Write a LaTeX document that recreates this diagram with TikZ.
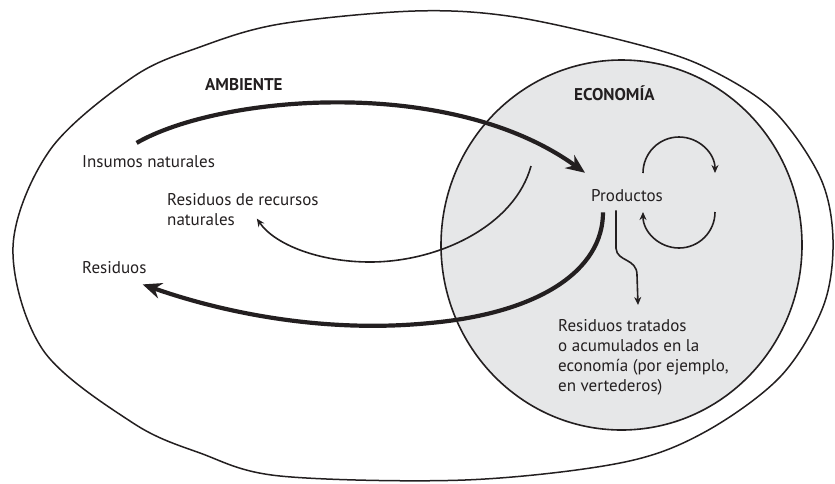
\documentclass[tikz,border=0pt]{standalone}
\usepackage{fontspec}
\setmainfont{PT Sans}
\usetikzlibrary{arrows.meta}

\definecolor{econgray}{RGB}{230,231,232}
\definecolor{inkblack}{RGB}{35,31,32}

\begin{document}
\begin{tikzpicture}[x=1pt,y=-1pt,
  label/.style={font=\fontsize{17}{20}\selectfont, inner sep=0pt, align=left, text=inkblack},
  title/.style={label, font=\fontsize{17}{20}\selectfont\bfseries},
  bigarrow/.style={-{Stealth[length=19pt,width=16pt]}, line width=4.2pt, inkblack},
  smallarrow/.style={-{Stealth[length=8pt,width=7pt]}, line width=1.6pt, inkblack}]

\useasboundingbox (0,0) rectangle (835,483);

% Draw the economy disc
\fill[econgray] (621.5,245) ellipse [x radius=180.5, y radius=185];

% Draw the environment
\draw[line width=1.5pt, inkblack] plot[smooth cycle, tension=0.55] coordinates {
  (415,11) (515,17) (640,45) (707,68) (773,110) (820,177) (833,240)
  (823,307) (780,377) (703,433) (620,463) (465,480) (280,476) (200,453)
  (133,423) (43,350) (13,247) (50,150) (133,77) (200,47) (280,24)};

\draw[line width=1.6pt, inkblack] (621.5,245) ellipse [x radius=180.5, y radius=185];

% Labels
\node[title, anchor=base west] (ambiente) at (205,90) {AMBIENTE};
\node[title, anchor=base west] (economia) at (574,100) {ECONOMÍA};
\node[label, anchor=base west] (insumos) at (82,167) {Insumos naturales};
\node[label, anchor=north west] (residrec) at (167,193) {Residuos de recursos\\naturales};
\node[label, anchor=base west] (residuos) at (82,273) {Residuos};
\node[label, anchor=base west] (productos) at (591,201) {Productos};
\node[label, anchor=north west] (tratados) at (558,319) {Residuos tratados\\o acumulados en la\\economía (por ejemplo,\\en vertederos)};

\coordinate (recstart) at (531,166);
\coordinate (cyc) at (679,193);

% Draw the flows
\draw[bigarrow] ([xshift=-12pt,yshift=12pt]insumos.north) .. controls (220,95) and (450,75) .. ([xshift=-6pt,yshift=16pt]productos.north west);
\draw[bigarrow] ([xshift=12pt,yshift=-11pt]productos.south west) .. controls (603,270) and (540,313) .. (430,323) .. controls (330,333) and (230,315) .. ([xshift=-4pt,yshift=-11pt]residuos.south east);
\draw[smallarrow] (recstart) .. controls (515,225) and (440,262) .. (370,262) .. controls (320,262) and (275,245) .. ([xshift=14pt,yshift=7pt]residrec.south);
\draw[smallarrow] ([xshift=-11pt,yshift=-9pt]productos.south) -- ++(0,38) .. controls (617,262) and (637,258) .. (637,275) -- ([xshift=80pt,yshift=14pt]tratados.north west);

% Draw the cycle
\draw[smallarrow] (cyc) ++(-36,-20) arc [start angle=180, end angle=0, radius=36pt];
\draw[smallarrow] (cyc) ++(36,19) arc [start angle=0, end angle=-180, radius=36pt];

\end{tikzpicture}
\end{document}
